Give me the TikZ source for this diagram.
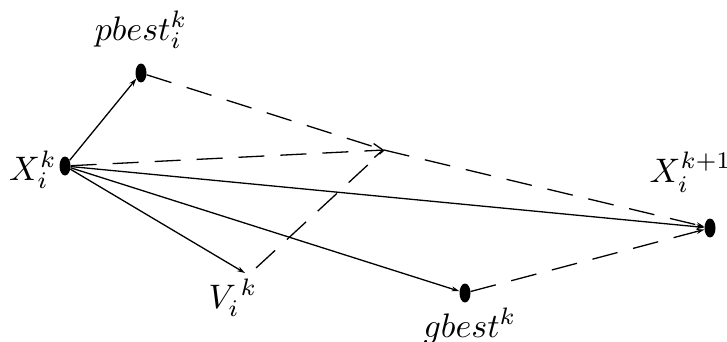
\documentclass[tikz,border=0pt]{standalone}
\usetikzlibrary{arrows.meta,shapes.geometric}
\begin{document}
\begin{tikzpicture}[x=1pt,y=-1pt,
  dot/.style={ellipse,fill=black,inner sep=0pt,minimum width=11pt,minimum height=19pt},
  vec/.style={line width=1.3pt,-{Stealth[length=8pt,width=5pt]}},
  guide/.style={line width=1.3pt,dash pattern=on 26pt off 16pt},
  lbl/.style={scale=3.4,inner sep=0pt}]
\useasboundingbox (0,0) rectangle (727,342);
% particle positions
\node[dot] (xk)  at (65,166) {};
\node[dot] (pb)  at (141,73) {};
\node[dot] (gb)  at (465,293) {};
\node[dot] (xk1) at (710,228) {};
\coordinate (v) at (245,273);
\coordinate (vs) at (256,268);
\coordinate (m) at (384,150);
% labels
\node[lbl] (lpb)  at (141,30)  {$pbest_i^k$};
\node[lbl] (lxk)  at (33,170)  {$X_i^k$};
\node[lbl,anchor=west] (lxk1) at (649,172) {$X_i^{k+1}$};
\node[lbl] (lv)   at (233,298) {$V_i^{\,k}$};
\node[lbl] (lgb)  at (470,326) {$gbest^k$};
% velocity components
\draw[vec] (xk) -- (pb);
\draw[vec] (xk) -- (v);
\draw[vec] (xk) -- (gb);
\draw[vec] (xk) -- (xk1);
% construction lines
\draw[guide,-{Straight Barb[length=9pt,width=14pt]}] (xk) -- (m);
\draw[guide] (pb) -- (m);
\draw[guide] (vs) -- (m);
\draw[guide,-{Stealth[length=8pt,width=5pt]}] (m) -- (xk1);
\draw[guide,-{Stealth[length=8pt,width=5pt]}] (gb) -- (xk1);
\end{tikzpicture}
\end{document}
